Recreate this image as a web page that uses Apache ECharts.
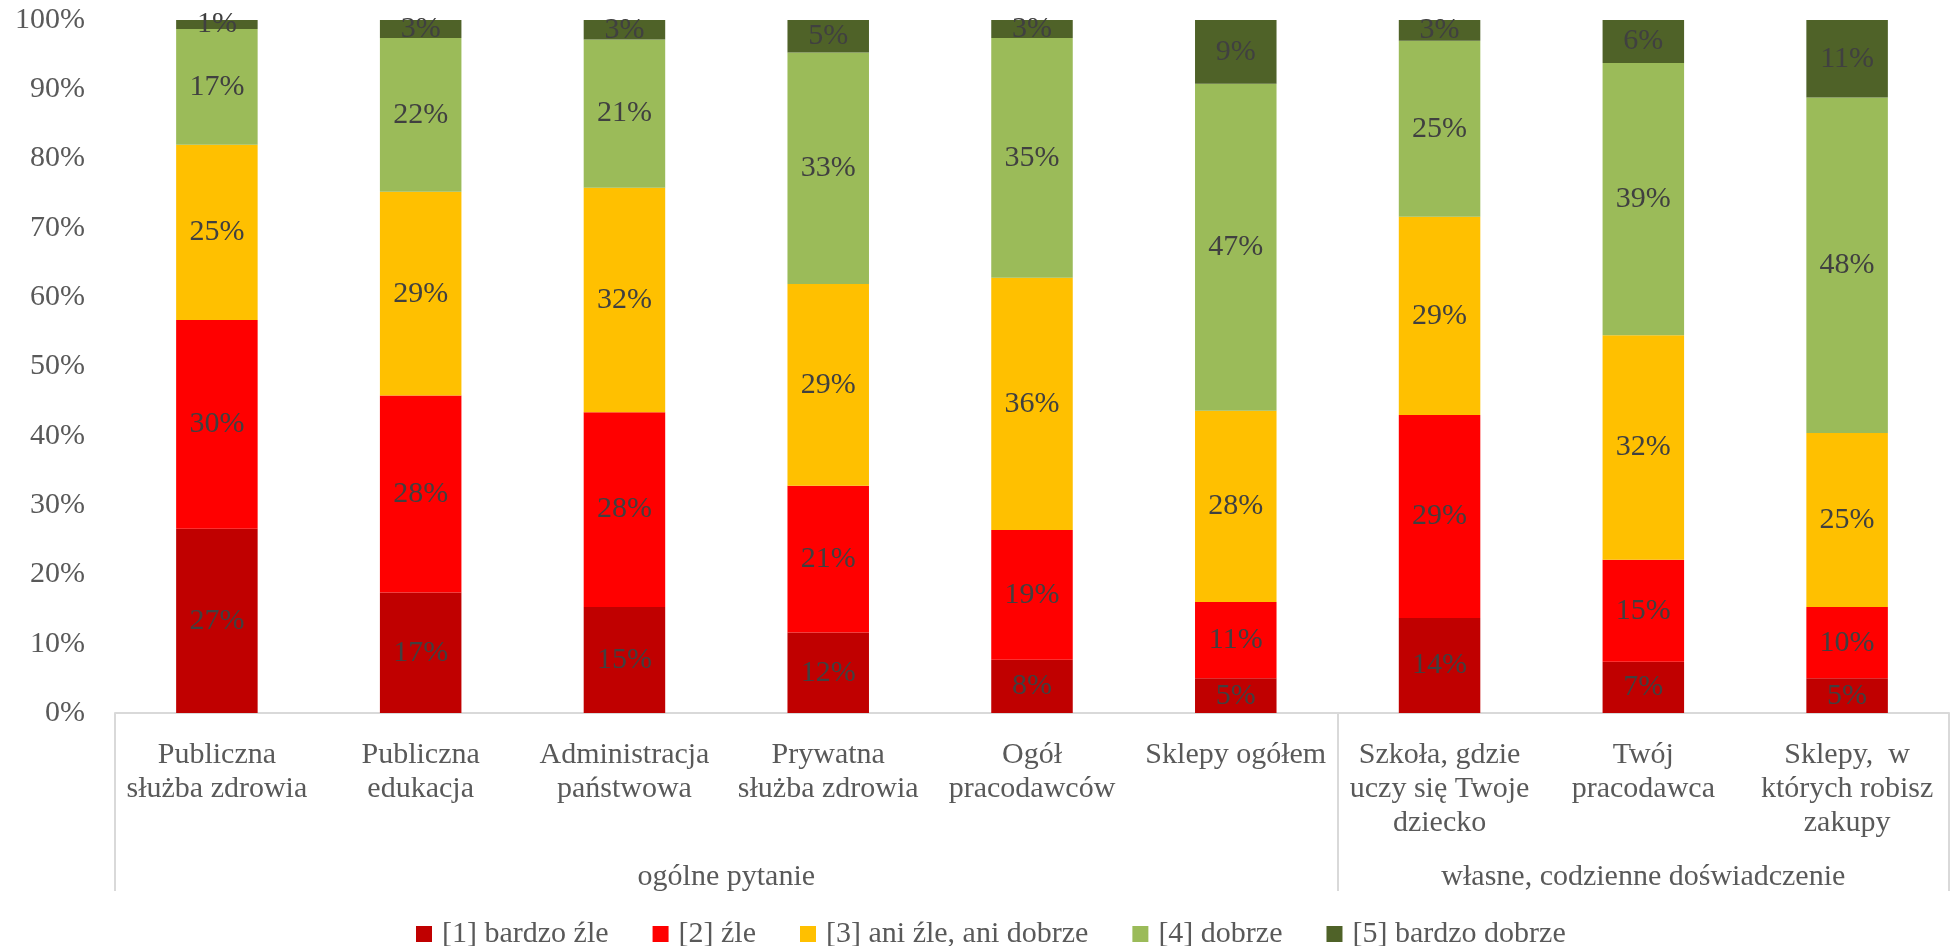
<!DOCTYPE html>
<html>
<head>
<meta charset="utf-8">
<script src="https://cdn.jsdelivr.net/npm/echarts@6/dist/echarts.min.js"></script>
<style>
html,body{margin:0;padding:0;background:#fff;}
#chart{width:1955px;height:946px;}
</style>
</head>
<body>
<div id="chart"></div>
<script>
const categories = [
  'Publiczna\nsłużba zdrowia',
  'Publiczna\nedukacja',
  'Administracja\npaństwowa',
  'Prywatna\nsłużba zdrowia',
  'Ogół\npracodawców',
  'Sklepy ogółem',
  'Szkoła, gdzie\nuczy się Twoje\ndziecko',
  'Twój\npracodawca',
  'Sklepy,  w\nktórych robisz\nzakupy'
];
const groups = ['ogólne pytanie', 'własne, codzienne doświadczenie'];
const groupSizes = [6, 3];
const seriesNames = ['[1] bardzo źle', '[2] źle', '[3] ani źle, ani dobrze', '[4] dobrze', '[5] bardzo dobrze'];
const colors = ['#C00000', '#FF0000', '#FFC000', '#9BBB59', '#4F6228'];
const bardzoZle   = [26.6, 17.4, 15.3, 11.6, 7.7, 5.0, 13.7, 7.4, 5.0];
const zle         = [30.1, 28.4, 28.1, 21.2, 18.7, 11.0, 29.3, 14.7, 10.3];
const aniZleAni   = [25.3, 29.4, 32.4, 29.1, 36.4, 27.6, 28.6, 32.4, 25.1];
const dobrze      = [16.7, 22.2, 21.4, 33.4, 34.6, 47.2, 25.4, 39.3, 48.4];
const bardzoDobrze= [1.3, 2.6, 2.8, 4.7, 2.6, 9.2, 3.0, 6.2, 11.2];
const yTicks = [0, 10, 20, 30, 40, 50, 60, 70, 80, 90, 100];

const seriesData = [bardzoZle, zle, aniZleAni, dobrze, bardzoDobrze];
const FONT = '"Liberation Serif", serif';

// group boundaries and centres in category units
const bounds = [0];
groupSizes.forEach(s => bounds.push(bounds[bounds.length - 1] + s));
const centres = groupSizes.map((s, i) => bounds[i] + s / 2);

const chart = echarts.init(document.getElementById('chart'));
chart.setOption({
  animation: false,
  textStyle: { fontFamily: FONT },
  grid: { left: 115, right: 6, top: 20, bottom: 233, containLabel: false },
  legend: {
    top: 914,
    left: 411,
    itemWidth: 16,
    itemHeight: 16,
    itemGap: 44,
    icon: 'rect',
    textStyle: { fontFamily: FONT, fontSize: 30, color: '#595959', padding: [0, 0, 0, 5] },
    data: seriesNames
  },
  xAxis: [
    {
      type: 'category',
      data: categories,
      position: 'bottom',
      axisLine: { show: true, lineStyle: { color: '#D9D9D9', width: 2 } },
      axisTick: { show: false },
      axisLabel: {
        interval: 0,
        margin: 25,
        fontFamily: FONT,
        fontSize: 30,
        lineHeight: 34,
        color: '#595959',
        align: 'center'
      }
    },
    {
      type: 'value',
      min: 0,
      max: categories.length,
      position: 'bottom',
      offset: 0,
      axisLine: { show: false },
      splitLine: { show: false },
      axisTick: {
        show: true,
        customValues: bounds,
        length: 178,
        lineStyle: { color: '#D9D9D9', width: 2 }
      },
      axisLabel: {
        show: true,
        customValues: centres,
        margin: 147,
        fontFamily: FONT,
        fontSize: 30,
        lineHeight: 34,
        color: '#595959',
        formatter: function (v) {
          const i = centres.findIndex(c => Math.abs(c - v) < 1e-6);
          return i >= 0 ? groups[i] : '';
        }
      }
    }
  ],
  yAxis: {
    type: 'value',
    min: yTicks[0],
    max: yTicks[yTicks.length - 1],
    interval: yTicks[1] - yTicks[0],
    axisLine: { show: false },
    axisTick: { show: false },
    splitLine: { show: false },
    axisLabel: {
      margin: 30,
      fontFamily: FONT,
      fontSize: 30,
      color: '#595959',
      formatter: '{value}%'
    }
  },
  series: seriesNames.map((name, i) => ({
    name: name,
    type: 'bar',
    stack: 'total',
    xAxisIndex: 0,
    barCategoryGap: '60%',
    itemStyle: { color: colors[i] },
    label: {
      show: true,
      position: 'inside',
      fontFamily: FONT,
      fontSize: 30,
      color: '#404040',
      formatter: p => Math.round(p.value) + '%'
    },
    data: seriesData[i]
  }))
});
</script>
</body>
</html>
